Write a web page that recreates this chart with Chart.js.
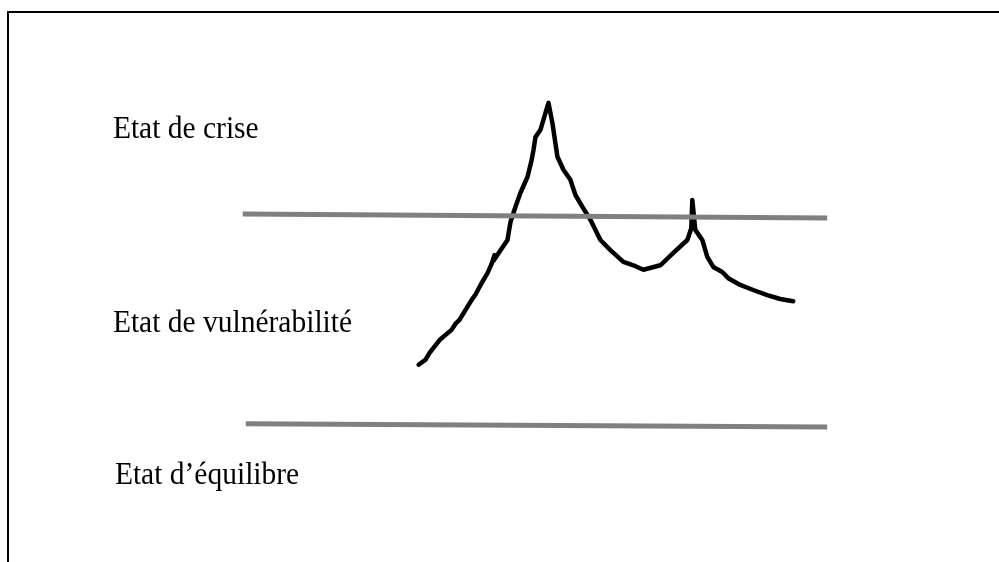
<!DOCTYPE html>
<html>
<head>
<meta charset="utf-8">
<script src="https://cdn.jsdelivr.net/npm/chart.js@4.4.1/dist/chart.umd.min.js"></script>
<style>
  html, body { margin: 0; padding: 0; background: #fff; }
  #wrap { position: relative; width: 999px; height: 562px; overflow: hidden; }
  #frame { position: absolute; left: 7px; top: 11px; right: -5px; bottom: -5px;
           border-top: 2px solid #000; border-left: 2px solid #000; pointer-events: none; }
</style>
</head>
<body>
<div id="wrap">
  <canvas id="Chart" width="999" height="562"></canvas>
  <div id="frame"></div>
</div>
<script>
// courbe de l'état du système (unités arbitraires, 0-100)
const curveX = [41.9, 42.6, 43.0, 44.0, 45.2, 45.6, 46.0, 47.2, 47.6, 48.2, 48.8, 49.2, 49.5, 49.4, 50.0, 50.8, 51.1, 51.6, 52.1, 52.8,
  53.2, 53.4, 53.6, 54.1, 54.9, 55.3, 55.8, 56.4, 57.1, 57.6, 58.3, 59.1, 60.1, 61.1, 62.4, 63.4, 64.4, 66.1,
  67.4, 68.8, 69.2, 69.3, 69.6, 70.3, 70.8, 71.4, 72.3, 72.9, 74.1, 75.4, 76.8, 78.1, 79.4];
const curveY = [35.1, 36.0, 37.2, 39.5, 41.3, 42.4, 43.1, 46.6, 47.6, 49.6, 51.4, 53.0, 54.6, 53.6, 55.2, 57.3, 60.5, 63.2, 65.7, 68.5,
  71.4, 73.3, 75.6, 76.9, 81.7, 78.1, 72.1, 69.8, 68.0, 65.3, 63.2, 60.9, 57.3, 55.5, 53.4, 52.8, 52.0, 52.8,
  55.0, 57.3, 59.4, 64.4, 59.1, 57.3, 54.3, 52.5, 51.6, 50.5, 49.3, 48.4, 47.5, 46.8, 46.4];

// seuils
const seuilHautX = [24.3, 82.8];
const seuilHautY = [61.9, 61.2];
const seuilBasX = [24.6, 82.8];
const seuilBasY = [24.6, 24.0];

const etats = ["Etat de crise", "Etat de vulnérabilité", "Etat d\u2019équilibre"];
const etatsY = [75.4, 40.9, 13.9];

const toPoints = (xs, ys) => xs.map((x, i) => ({ x: x, y: ys[i] }));

const labelsPlugin = {
  id: "etats",
  afterDraw(chart) {
    const { ctx, scales } = chart;
    ctx.save();
    ctx.fillStyle = "#000";
    ctx.font = "29.5px 'Liberation Serif', 'Times New Roman', serif";
    ctx.textBaseline = "alphabetic";
    ctx.textAlign = "left";
    etats.forEach((txt, i) => {
      const x = scales.x.getPixelForValue(i === 2 ? 11.5 : 11.3);
      const y = scales.y.getPixelForValue(etatsY[i]);
      ctx.save();
      ctx.translate(x, y);
      ctx.scale(1, 1.08);
      ctx.fillText(txt, 0, 0);
      ctx.restore();
    });
    ctx.restore();
  },
};

const ctx = document.getElementById("Chart");
new Chart(ctx, {
  type: "line",
  data: {
    datasets: [
      {
        data: toPoints(seuilHautX, seuilHautY),
        borderColor: "#808080",
        borderWidth: 5,
        borderCapStyle: "butt",
      },
      {
        data: toPoints(seuilBasX, seuilBasY),
        borderColor: "#808080",
        borderWidth: 5,
        borderCapStyle: "butt",
      },
      {
        data: toPoints(curveX, curveY),
        borderColor: "#000",
        borderWidth: 4.5,
        borderJoinStyle: "round",
        borderCapStyle: "round",
        tension: 0,
      },
    ],
  },
  options: {
    responsive: false,
    animation: false,
    layout: { padding: 0 },
    elements: { point: { radius: 0 } },
    plugins: {
      legend: { display: false },
      tooltip: { enabled: false },
    },
    scales: {
      x: { type: "linear", min: 0, max: 100, display: false },
      y: { type: "linear", min: 0, max: 100, display: false },
    },
  },
  plugins: [labelsPlugin],
});
</script>
</body>
</html>
